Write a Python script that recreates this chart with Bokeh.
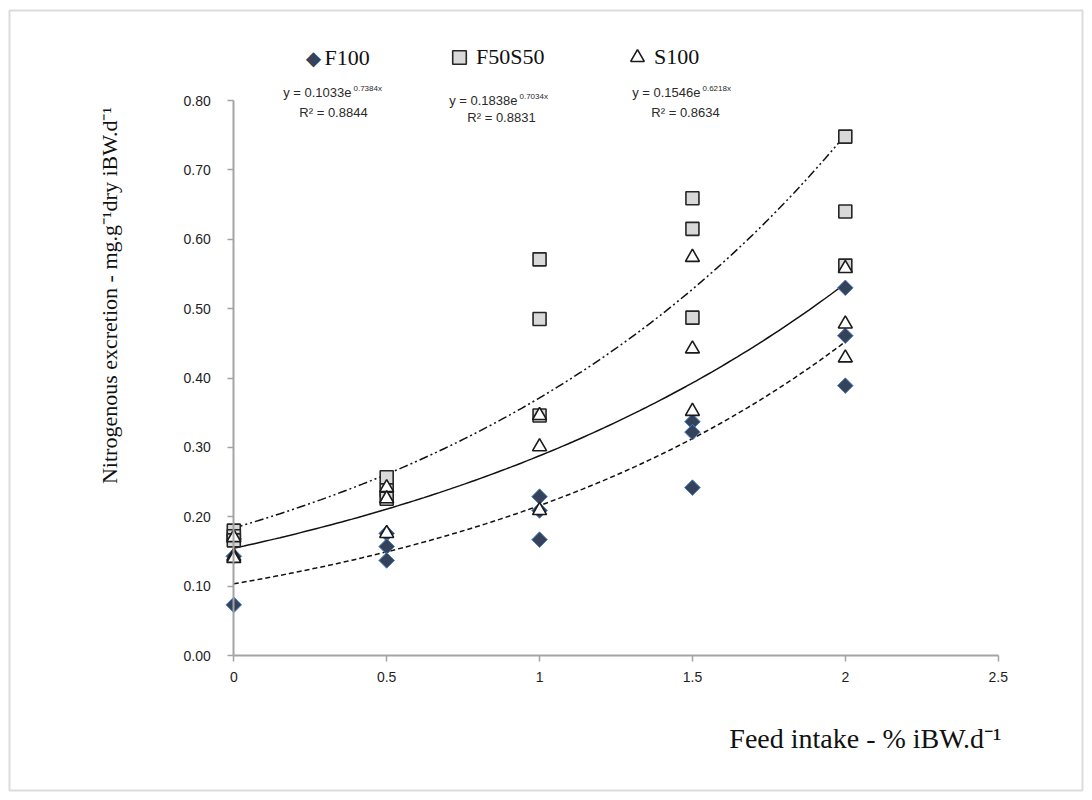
import numpy as np
from bokeh.plotting import figure
from bokeh.models import (Range1d, FixedTicker, NumeralTickFormatter, Label, Legend,
                          LegendItem, CustomJSTickFormatter)
from bokeh.embed import file_html
from bokeh.resources import INLINE

# ---------------- data ----------------
series_names = ["F100", "F50S50", "S100"]
feed_x = [0, 0, 0, 0.5, 0.5, 0.5, 1, 1, 1, 1.5, 1.5, 1.5, 2, 2, 2]
f100_y = [0.073, 0.143, 0.168, 0.176, 0.157, 0.137, 0.229, 0.209, 0.167,
          0.337, 0.322, 0.242, 0.530, 0.461, 0.389]
f50s50_y = [0.180, 0.172, 0.166, 0.257, 0.238, 0.226, 0.571, 0.485, 0.346,
            0.659, 0.615, 0.487, 0.748, 0.640, 0.562]
s100_y = [0.170, 0.143, 0.140, 0.242, 0.226, 0.176, 0.346, 0.301, 0.209,
          0.574, 0.442, 0.352, 0.558, 0.478, 0.429]
fit_a = [0.1033, 0.1838, 0.1546]
fit_b = [0.7384, 0.7034, 0.6218]
fit_a_txt = ["0.1033", "0.1838", "0.1546"]
fit_b_txt = ["0.7384x", "0.7034x", "0.6218x"]
r2_txt = ["0.8844", "0.8831", "0.8634"]
x_ticks = [0, 0.5, 1, 1.5, 2, 2.5]
y_ticks = [0, 0.1, 0.2, 0.3, 0.4, 0.5, 0.6, 0.7, 0.8]
x_title = "Feed intake - % iBW.d\u207b\u00b9"
y_title = "Nitrogenous excretion - mg.g\u207b\u00b9dry iBW.d\u207b\u00b9"

# ---------------- layout (pixels) ----------------
W, H = 1084, 792
FL, FT, FR, FB = 9, 10, 1082, 790          # frame box on the canvas
AX0, AX1 = 233.3, 997.7                    # x = 0 and x = 2.5
AY0, AY1 = 655.0, 100.0                    # y = 0 and y = 0.8
sx = (AX1 - AX0) / 2.5
sy = (AY0 - AY1) / 0.8


def X(px):
    return (px - AX0) / sx


def Y(py):
    return (AY0 - py) / sy


p = figure(width=W, height=H, x_range=Range1d(X(FL), X(FR)), y_range=Range1d(Y(FB), Y(FT)),
           output_backend="svg", toolbar_location=None,
           min_border_left=FL, min_border_right=W - FR, min_border_top=FT,
           min_border_bottom=H - FB)
p.outline_line_color = "#dcdcdc"
p.outline_line_width = 2
p.grid.visible = False
p.background_fill_color = "white"
p.border_fill_color = "white"

axis_col = "#a3a3a3"
for ax in (p.xaxis[0], p.yaxis[0]):
    ax.axis_line_color = axis_col
    ax.axis_line_width = 2
    ax.major_tick_line_color = axis_col
    ax.major_tick_line_width = 1.5
    ax.major_tick_out = 6
    ax.major_tick_in = 0
    ax.minor_tick_line_color = None
    ax.major_label_text_font = "Liberation Sans"
    ax.major_label_text_font_size = "14px"
    ax.major_label_text_color = "#1e1e1e"
    ax.fixed_location = 0

p.xaxis.ticker = FixedTicker(ticks=x_ticks)
p.xaxis.formatter = CustomJSTickFormatter(code="return String(tick);")
p.xaxis.bounds = (0, 2.5)
p.xaxis.major_label_standoff = 10
p.yaxis.ticker = FixedTicker(ticks=y_ticks)
p.yaxis.formatter = NumeralTickFormatter(format="0.00")
p.yaxis.bounds = (0, 0.8)
p.yaxis.major_label_standoff = 17

# ---------------- trend lines ----------------
xs = np.linspace(0, 2, 120)
dashes = ["5 3", "9 3 2 3 2 3", "solid"]
for a, b, d in zip(fit_a, fit_b, dashes):
    p.line(xs, a * np.exp(b * xs), line_color="#111111", line_width=1.5, line_dash=d)

# ---------------- points ----------------
f100_fill, f100_edge = "#34425c", "#4a7ebb"
r1 = p.scatter(feed_x, f100_y, marker="square", angle=np.pi / 4, size=11,
               fill_color=f100_fill, line_color=f100_edge, line_width=1)
r2 = p.scatter(feed_x, f50s50_y, marker="square", size=13,
               fill_color="#d9d9d9", line_color="#262626", line_width=1.6)
r3 = p.scatter(feed_x, s100_y, marker="triangle", size=14,
               fill_color="white", line_color="#1a1a1a", line_width=1.6)

# ---------------- legend ----------------
leg_cy = 57
leg_font = "22px"
# F100: diamond symbol + name
p.add_layout(Label(x=X(313), y=Y(leg_cy), text="\u25c6", text_align="center",
                   text_baseline="middle", text_font="DejaVu Sans", text_font_size="20px",
                   text_color=f100_fill))
p.add_layout(Label(x=X(324), y=Y(leg_cy), text=series_names[0], text_align="left",
                   text_baseline="middle", text_font="Liberation Serif",
                   text_font_size=leg_font, text_color="#111111"))
GW = 34
leg_centers = [459, 637]
for name, r, c in zip(series_names[1:], [r2, r3], leg_centers):
    leg = Legend(items=[LegendItem(label=name, renderers=[r])],
                 location=(c - GW / 2 - FL, FB - (leg_cy + GW / 2)),
                 orientation="horizontal", padding=0, margin=0, glyph_width=GW,
                 glyph_height=GW, label_standoff=0, background_fill_alpha=0,
                 border_line_color=None, label_text_font="Liberation Serif",
                 label_text_font_size=leg_font, label_text_color="#111111")
    p.add_layout(leg)

# ---------------- equations ----------------
eq_end = [351, 517, 700]
eq_y = [92, 100, 92]
r2_cx = [333, 501, 685]
r2_y = [112, 117, 112]
for i in range(3):
    p.add_layout(Label(x=X(eq_end[i]), y=Y(eq_y[i]), text="y = " + fit_a_txt[i] + "e",
                       text_align="right", text_baseline="middle",
                       text_font="Liberation Sans", text_font_size="13px",
                       text_color="#2a2a2a"))
    p.add_layout(Label(x=X(eq_end[i] + 2), y=Y(eq_y[i] - 4), text=fit_b_txt[i],
                       text_align="left", text_baseline="middle",
                       text_font="Liberation Sans", text_font_size="8px",
                       text_color="#2a2a2a"))
    p.add_layout(Label(x=X(r2_cx[i]), y=Y(r2_y[i]), text="R\u00b2 = " + r2_txt[i],
                       text_align="center", text_baseline="middle",
                       text_font="Liberation Sans", text_font_size="13px",
                       text_color="#2a2a2a"))

# ---------------- axis titles ----------------
p.add_layout(Label(x=X(109), y=Y(295), text=y_title, angle=np.pi / 2,
                   text_align="center", text_baseline="middle",
                   text_font="Liberation Serif", text_font_size="22px", text_color="#111111"))
p.add_layout(Label(x=X(1001), y=Y(738), text=x_title,
                   text_align="right", text_baseline="middle",
                   text_font="Liberation Serif", text_font_size="28px", text_color="#111111"))

open("out.html", "w").write(file_html(p, INLINE))
